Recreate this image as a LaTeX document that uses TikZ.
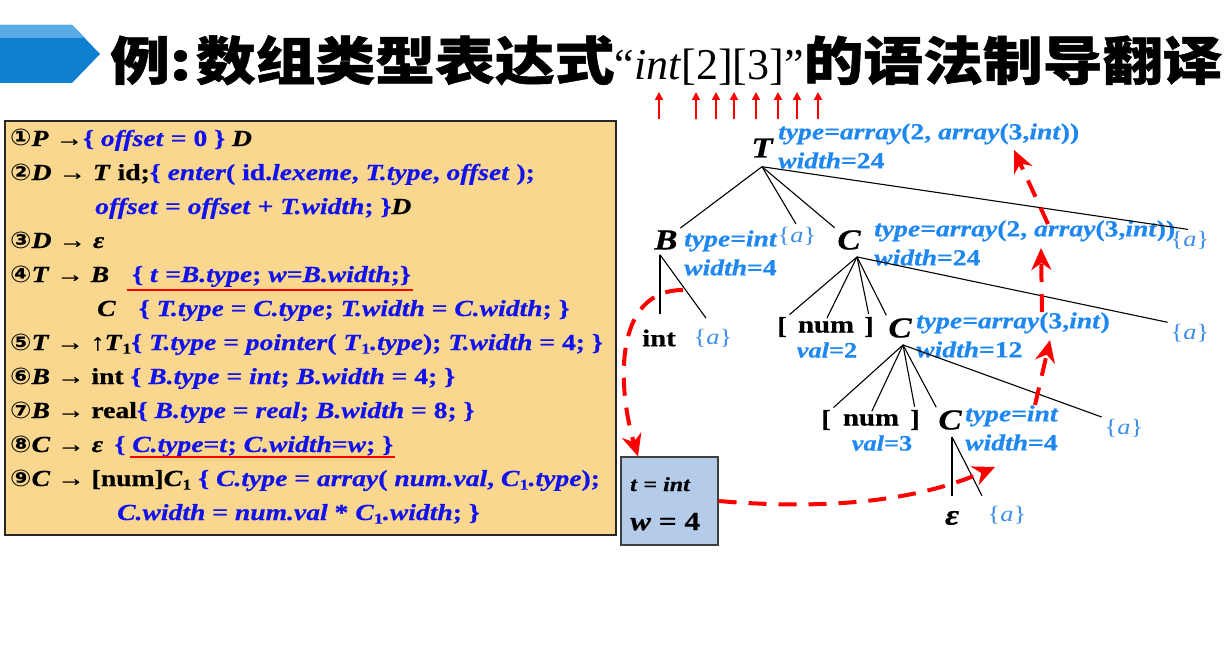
\documentclass[tikz,border=0pt]{standalone}
\usepackage{fontspec}
\setmainfont{Liberation Serif}[FakeStretch=1.2, BoldFeatures={FakeBold=0.6}, BoldItalicFeatures={FakeBold=0.6}]
\newfontfamily\cjk{Noto Sans CJK SC}[FakeStretch=1.15, BoldFeatures={FakeBold=1}]
\newfontfamily\titlelat{Liberation Serif}
\newfontfamily\circfont{DejaVu Sans}[FakeStretch=1.1]
\usetikzlibrary{arrows.meta}
\definecolor{rulebg}{HTML}{F9D78F}
\definecolor{actblue}{HTML}{1212EE}
\definecolor{attr}{HTML}{1E88F0}
\definecolor{bracecol}{HTML}{3D8EE6}
\definecolor{boxbg}{HTML}{B4CBEA}
\definecolor{banner}{HTML}{0F7FD0}
\definecolor{bannerlt}{HTML}{58AAE2}
\definecolor{flow}{HTML}{FF0000}
\newcommand{\act}[1]{\textcolor{actblue}{#1}}
\newcommand{\subone}{\raisebox{-0.35ex}{\fontsize{15}{15}\selectfont 1}}
\newcommand{\cnum}[1]{{\circfont #1}}
\newcommand{\abrace}{\{\textit{a}\}}
\tikzset{
  rulebox/.style={draw=black!85, fill=rulebg, line width=1.5pt, inner sep=0pt},
  ruleline/.style={anchor=base west, inner sep=0pt, font=\fontsize{23}{26}\selectfont\bfseries},
  sym/.style={font=\fontsize{29}{29}\selectfont\bfseries\itshape, inner sep=1pt},
  term/.style={font=\fontsize{24}{24}\selectfont\bfseries, inner sep=1pt},
  attrlbl/.style={anchor=west, align=left, text=attr, inner sep=0pt,
                  font=\fontsize{23}{29}\selectfont\bfseries},
  vallbl/.style={text=attr, inner sep=0pt, font=\fontsize{22}{22}\selectfont\bfseries},
  brace/.style={text=bracecol, inner sep=1pt, font=\fontsize{22}{22}\selectfont},
  branch/.style={line width=1.1pt, shorten >=2pt},
  statebox/.style={draw=black!75, fill=boxbg, line width=1.2pt,
                   minimum width=97pt, minimum height=88pt, inner sep=0pt},
  flowar/.style={draw=flow, line width=4pt, dash pattern=on 18pt off 12pt,
                 -{Stealth[length=22pt,width=20pt,inset=7pt]}},
  tokar/.style={draw=flow, line width=1.8pt, -{Triangle[length=8pt,width=8pt]}}
}

\begin{document}
\begin{tikzpicture}[x=1pt,y=-1pt]
  \useasboundingbox (0,0) rectangle (1228,658);

  % title bar
  \fill[banner] (0,25) -- (72,25) -- (100,54) -- (72,83) -- (0,83) -- cycle;
  \fill[bannerlt] (0,25) -- (72,25) -- (85,38) -- (0,38) -- cycle;
  \node[anchor=base west, inner sep=0pt] (title) at (110,80)
    {{\cjk\bfseries\fontsize{52}{52}\selectfont 例:\kern5pt 数组类型表达式}%
     {\titlelat\fontsize{44}{44}\selectfont “\textit{int}[2][3]”}%
     {\cjk\bfseries\fontsize{52}{52}\selectfont 的语法制导翻译}};
  \foreach \x in {659,696,716,734,756,778,797,818}
    \draw[tokar] (\x,119) -- (\x,92);

  % rules
  \node[rulebox, minimum width=611pt, minimum height=414pt] (rules) at (310.5,328) {};
  \node[ruleline] (r1) at (10,146) {\cnum{①}\textit{P} →\act{\{ \textit{offset} = 0 \}} \textit{D}};
  \node[ruleline] (r2) at (10,180) {\cnum{②}\textit{D} → \textit{T} id;\act{\{ \textit{enter}( id.\textit{lexeme}, \textit{T.type}, \textit{offset} );}};
  \node[ruleline] (r2b) at (95,214) {\act{\textit{offset} = \textit{offset} + \textit{T.width}; \}}\textit{D}};
  \node[ruleline] (r3) at (10,248) {\cnum{③}\textit{D} → \textit{ε}};
  \node[ruleline] (r4) at (10,282) {\cnum{④}\textit{T} → \textit{B}\quad\act{\{ \textit{t} =\textit{B.type}; \textit{w}=\textit{B.width};\}}};
  \node[ruleline] (r4b) at (97,316) {\textit{C}\quad\act{\{ \textit{T.type} = \textit{C.type}; \textit{T.width} = \textit{C.width}; \}}};
  \node[ruleline] (r5) at (10,350) {\cnum{⑤}\textit{T} → ↑\textit{T}\subone\act{\{ \textit{T.type} = \textit{pointer}( \textit{T}\subone\textit{.type}); \textit{T.width} = 4; \}}};
  \node[ruleline] (r6) at (10,384) {\cnum{⑥}\textit{B} → int \act{\{ \textit{B.type} = \textit{int}; \textit{B.width} = 4; \}}};
  \node[ruleline] (r7) at (10,418) {\cnum{⑦}\textit{B} → real\act{\{ \textit{B.type} = \textit{real}; \textit{B.width} = 8; \}}};
  \node[ruleline] (r8) at (10,452) {\cnum{⑧}\textit{C} → \textit{ε}\enspace\act{\{ \textit{C.type}=\textit{t}; \textit{C.width}=\textit{w}; \}}};
  \node[ruleline] (r9) at (10,486) {\cnum{⑨}\textit{C} → [num]\textit{C}\subone\ \act{\{ \textit{C.type} = \textit{array}( \textit{num.val}, \textit{C}\subone\textit{.type});}};
  \node[ruleline] (r9b) at (117,520) {\act{\textit{C.width} = \textit{num.val} * \textit{C}\subone\textit{.width}; \}}};
  \draw[flow, line width=2pt] (127,290) -- (413,290);
  \draw[flow, line width=2pt] (130,457) -- (395,457);

  % annotated parse tree
  \node[sym] (T) at (762,148) {T};
  \node[attrlbl] (Tlab) at (778,146) {\textit{type=array}(2, \textit{array}(3,\textit{int}))\\\textit{width}=24};
  \node[sym] (B) at (666,240) {B};
  \node[attrlbl] (Blab) at (684,253) {\textit{type=int}\\\textit{width}=4};
  \node[brace] (aT) at (797,236) {\abrace};
  \node[sym] (C1) at (849,240) {C};
  \node[attrlbl] (C1lab) at (874,243) {\textit{type=array}(2, \textit{array}(3,\textit{int}))\\\textit{width}=24};
  \node[brace] (aTr) at (1190,240) {\abrace};
  \node[term] (int) at (659,338) {int};
  \node[brace] (aB) at (713,338) {\abrace};
  \node[term] (lbA) at (782,327) {[};
  \node[term] (numA) at (826,327) {num};
  \node[term] (rbA) at (869,327) {]};
  \node[vallbl] (valA) at (827,350) {\textit{val}=2};
  \node[sym] (C2) at (900,328) {C};
  \node[attrlbl] (C2lab) at (916,335) {\textit{type=array}(3,\textit{int})\\\textit{width}=12};
  \node[brace] (aC1) at (1190,333) {\abrace};
  \node[term] (lbB) at (826,420) {[};
  \node[term] (numB) at (871,420) {num};
  \node[term] (rbB) at (915,420) {]};
  \node[vallbl] (valB) at (882,443) {\textit{val}=3};
  \node[sym] (C3) at (950,420) {C};
  \node[attrlbl] (C3lab) at (965,428) {\textit{type=int}\\\textit{width}=4};
  \node[brace] (aC2) at (1124,428) {\abrace};
  \node[sym] (eps) at (952,518) {ε};
  \node[brace] (aC3) at (1007,515) {\abrace};

  \coordinate (Tf) at ([yshift=-8pt]T.south);
  \coordinate (Bf) at ([xshift=-6pt,yshift=-4pt]B.south);
  \coordinate (C1f) at ([xshift=8pt,yshift=-6pt]C1.south);
  \coordinate (C2f) at ([xshift=3pt,yshift=-6pt]C2.south);
  \coordinate (C3f) at ([xshift=2pt,yshift=-6pt]C3.south);

  \draw[branch] (Tf) -- (B.north east);
  \draw[branch] (Tf) -- (aT.north);
  \draw[branch] (Tf) -- (C1.north west);
  \draw[branch] (Tf) -- (aTr.north);
  \draw[branch, shorten >=14pt] (Bf) -- (Bf |- int.north);
  \draw[branch, shorten >=12pt] (Bf) -- (aB.north);
  \draw[branch] (C1f) -- (lbA.north east);
  \draw[branch] (C1f) -- (numA.north);
  \draw[branch] (C1f) -- (rbA.north);
  \draw[branch] (C1f) -- (C2.north west);
  \draw[branch] (C1f) -- (aC1.north west);
  \draw[branch] (C2f) -- (lbB.north east);
  \draw[branch] (C2f) -- (numB.north);
  \draw[branch] (C2f) -- (rbB.north);
  \draw[branch] (C2f) -- (C3.north west);
  \draw[branch] (C2f) -- (aC2.north west);
  \draw[branch, shorten >=14pt] (C3f) -- (C3f |- eps.north);
  \draw[branch, shorten >=10pt] (C3f) -- (aC3.north west);

  % inherited t, w
  \node[statebox] (box) at (669.5,501) {};
  \node[anchor=base west, inner sep=0pt, font=\fontsize{20}{20}\selectfont\bfseries] (tval) at (630,491) {\textit{t} = \textit{int}};
  \node[anchor=base west, inner sep=0pt, font=\fontsize{26}{26}\selectfont\bfseries] (wval) at (630,530) {\textit{w} = 4};

  % attribute flow
  \coordinate (tw) at (683,290);
  \coordinate (C3in) at (995,467);
  \coordinate (C3out) at (1035,405);
  \coordinate (C2in) at (1050,340);
  \coordinate (C2out) at (1042,312);
  \coordinate (C1in) at (1041,248);
  \coordinate (C1out) at (1048,224);
  \coordinate (Tin) at (1014,150);
  \draw[flowar] (tw) .. controls (612,290) and (618,390) .. (box.north -| 638,0);
  \draw[flowar] (box.east) .. controls (850,512) and (930,495) .. (C3in);
  \draw[flowar] (C3out) -- (C2in);
  \draw[flowar] (C2out) -- (C1in);
  \draw[flowar] (C1out) -- (Tin);
\end{tikzpicture}
\end{document}
